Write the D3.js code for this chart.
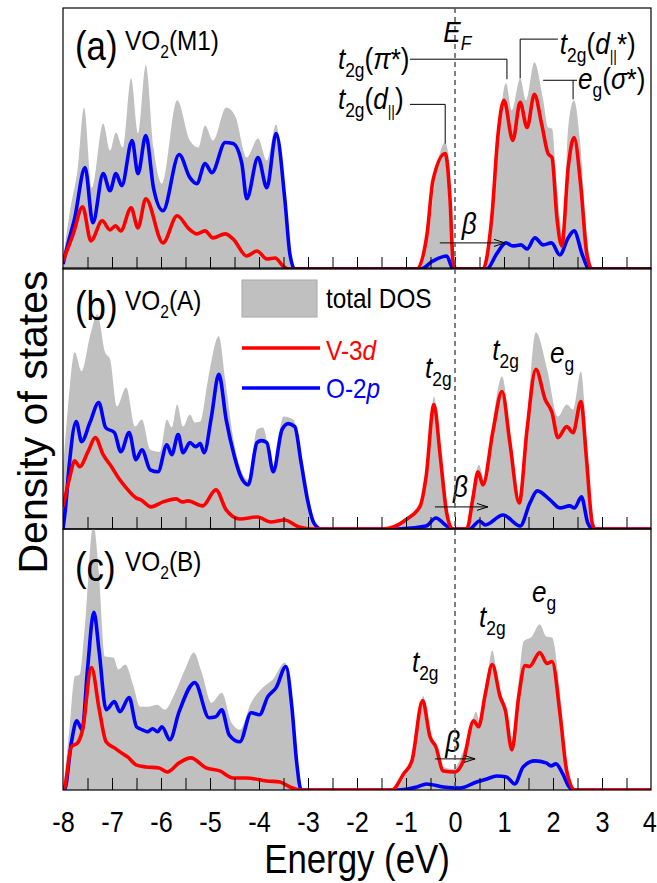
<!DOCTYPE html>
<html>
<head>
<meta charset="utf-8">
<script src="https://cdn.jsdelivr.net/npm/d3@7"></script>
<style>
  html, body { margin: 0; padding: 0; background: #fff; }
  svg { display: block; font-family: "Liberation Sans", Arial, sans-serif; }
</style>
</head>
<body>
<svg id="chart" width="657" height="883"></svg>
<script>
// Projected DOS of three VO2 polymorphs.
// Each series is [energy (eV), DOS (arb. units)].

const xTicks = [-8, -7, -6, -5, -4, -3, -2, -1, 0, 1, 2, 3, 4]
const panelNames = ['(a)', '(b)', '(c)']
const phaseNames = ['(M1)', '(A)', '(B)']
const legendNames = ['total DOS', 'V-3', 'O-2']

const m1Total = [[-8,1],[-7.85,6],[-7.7,10],[-7.57,16.1],[-7.41,8.1],[-7.18,14.5],[-7.04,11.8],[-6.92,13.6],[-6.78,12.1],[-6.61,19.0],[-6.47,13.5],[-6.31,20.3],[-6.15,12],[-5.98,8.5],[-5.67,16.8],[-5.41,12.8],[-5.24,12.1],[-5.10,14.3],[-4.94,12.8],[-4.67,16.1],[-4.49,15.3],[-4.25,11.1],[-4.02,13.0],[-3.84,10.8],[-3.65,14.4],[-3.43,3.5],[-3.3,0],[-0.78,0],[-0.51,4.8],[-0.37,10.1],[-0.2,12.6],[-0.1,9.5],[-0.04,1.5],[0.01,0],[0.55,0],[0.65,1.5],[0.78,6.8],[0.92,15],[1.04,18.5],[1.16,15.8],[1.33,19],[1.45,16.8],[1.62,20.6],[1.8,16.8],[1.9,14.1],[1.98,14],[2.08,8.1],[2.2,3.4],[2.31,14.1],[2.43,16.8],[2.55,12.8],[2.69,3.4],[2.8,0],[4,0]]
const m1O2p = [[-8,0.5],[-7.9,2.5],[-7.76,5.1],[-7.55,10.1],[-7.39,4.6],[-7.18,9.5],[-7.04,7.8],[-6.92,9.5],[-6.8,8.3],[-6.59,12.8],[-6.47,9.5],[-6.31,13.3],[-6.15,8],[-5.96,5.8],[-5.63,11.4],[-5.41,9.1],[-5.27,8.5],[-5.1,10.5],[-4.96,9.6],[-4.69,12.6],[-4.53,12.5],[-4.35,10.5],[-4.25,7.0],[-4.02,11.1],[-3.84,8.1],[-3.65,13.5],[-3.47,6.8],[-3.37,1.5],[-3.27,0],[-0.7,0],[-0.45,0.8],[-0.17,1.3],[-0.04,0],[0.65,0],[0.85,1.5],[1.04,2.6],[1.18,2.3],[1.35,2.4],[1.47,2.0],[1.63,3.1],[1.8,2.4],[1.97,2.6],[2.14,1.4],[2.3,3.0],[2.43,3.8],[2.6,1.4],[2.74,0],[4,0]]
const m1V3d = [[-8,0.8],[-7.79,3.5],[-7.6,6.2],[-7.43,2.8],[-7.2,4.8],[-7.04,3.9],[-6.93,4.3],[-6.82,3.8],[-6.61,6.1],[-6.47,4.1],[-6.31,7.0],[-5.96,2.6],[-5.67,5.3],[-5.43,4.0],[-5.27,3.5],[-5.1,3.8],[-4.94,3.1],[-4.69,3.5],[-4.53,3.0],[-4.25,1.3],[-4.04,1.8],[-3.84,1.0],[-3.67,1.1],[-3.51,0.3],[-3.4,0],[-0.78,0],[-0.57,3.5],[-0.45,8.8],[-0.2,11.5],[-0.1,6.8],[-0.04,0.8],[0.02,0],[0.57,0],[0.75,5.1],[0.88,13.5],[1.0,16.8],[1.18,12.8],[1.33,16.6],[1.47,14.1],[1.62,17.4],[1.77,14.4],[1.9,11.5],[1.98,11.1],[2.08,5.1],[2.18,2.3],[2.31,10.1],[2.43,13.1],[2.57,8.1],[2.69,1.5],[2.8,0],[4,0]]

const aTotal = [[-8,5.9],[-7.9,12],[-7.76,17.6],[-7.62,15.7],[-7.45,19.2],[-7.3,21.4],[-7.14,17.6],[-7.04,16.9],[-6.9,12.2],[-6.71,14.1],[-6.53,10.2],[-6.39,10.9],[-6.22,7.9],[-6.02,7.7],[-5.88,10.9],[-5.78,10.1],[-5.67,12.4],[-5.55,10.2],[-5.41,11.4],[-5.31,10.6],[-5.2,10.7],[-5.04,14.9],[-4.82,19.2],[-4.69,14.9],[-4.53,9.2],[-4.39,6.2],[-4.22,4.9],[-4.04,9.9],[-3.92,10.1],[-3.72,6.2],[-3.5,11.2],[-3.3,10.9],[-3.16,8.2],[-3.03,4.6],[-2.9,1.2],[-2.78,0],[-1.47,0],[-0.98,0.9],[-0.71,2.6],[-0.55,7.2],[-0.43,13.2],[-0.31,8.2],[-0.17,1.2],[-0.04,0],[0.24,0],[0.37,4.2],[0.49,6.4],[0.61,4.6],[0.78,10.9],[0.96,15.2],[1.12,9.9],[1.31,2.9],[1.47,10.9],[1.65,19.6],[1.88,15.9],[2.1,11.2],[2.28,12.4],[2.41,11.9],[2.57,15.7],[2.69,8.6],[2.8,0.6],[2.86,0],[4,0]]
const aO2p = [[-8,0],[-7.95,2],[-7.88,6],[-7.73,10.7],[-7.62,8.7],[-7.45,10.6],[-7.27,12.6],[-7.13,10.1],[-6.95,9.6],[-6.82,7.7],[-6.65,9.6],[-6.51,6.9],[-6.39,7.9],[-6.22,5.9],[-6.06,5.7],[-5.88,8.4],[-5.78,7.4],[-5.65,9.4],[-5.55,7.6],[-5.41,8.6],[-5.29,8.2],[-5.2,8.5],[-5.12,7.6],[-4.97,11.2],[-4.82,15.4],[-4.67,10.9],[-4.5,7.2],[-4.37,5.2],[-4.22,4.4],[-4.04,8.6],[-3.95,8.8],[-3.84,8.6],[-3.71,5.7],[-3.53,9.9],[-3.4,10.5],[-3.27,10.2],[-3.14,6.6],[-3.01,2.9],[-2.88,0.6],[-2.74,0],[-1.17,0],[-0.59,0.3],[-0.39,1.1],[-0.17,0.3],[-0.03,0],[0.3,0],[0.5,0.8],[0.62,0.4],[0.98,1.4],[1.33,0.3],[1.53,2.6],[1.68,3.8],[1.94,2.9],[2.14,2.1],[2.34,2.3],[2.44,2.1],[2.58,3.2],[2.71,0.6],[2.82,0],[4,0]]
const aV3d = [[-8,2.2],[-7.86,5.2],[-7.76,6.8],[-7.66,6.2],[-7.49,7.7],[-7.34,9.1],[-7.18,7.4],[-7.01,6.2],[-6.87,5.1],[-6.71,4.1],[-6.51,3.1],[-6.41,2.9],[-6.2,2.2],[-5.96,2.7],[-5.69,3.0],[-5.57,2.7],[-5.45,2.8],[-5.15,2.3],[-4.88,3.9],[-4.67,1.9],[-4.39,1.0],[-4.03,1.2],[-3.76,0.7],[-3.48,0.9],[-3.18,0.2],[-2.9,0],[-1.47,0],[-0.98,1.0],[-0.71,2.3],[-0.59,5.2],[-0.43,12.4],[-0.3,7.2],[-0.17,1.6],[-0.05,0],[0.24,0],[0.37,3.2],[0.47,5.7],[0.57,4.4],[0.78,9.9],[0.96,13.7],[1.12,8.6],[1.31,2.6],[1.47,9.9],[1.65,15.9],[1.84,12.9],[1.98,11.6],[2.1,9.1],[2.28,10.2],[2.41,9.6],[2.57,12.7],[2.68,7.2],[2.8,0.6],[2.86,0],[4,0]]

const bTotal = [[-8,0],[-7.87,6.0],[-7.76,11.3],[-7.66,11.5],[-7.56,16],[-7.38,26.5],[-7.27,21.7],[-7.14,13.3],[-6.97,13.2],[-6.87,12.0],[-6.73,12.5],[-6.56,10.3],[-6.43,8.3],[-6.26,8.3],[-6.08,8.5],[-5.92,8.0],[-5.75,9.3],[-5.51,12.0],[-5.33,13.7],[-5.17,11.7],[-4.97,8.7],[-4.76,9.7],[-4.56,6.7],[-4.39,6.0],[-4.16,8.7],[-3.92,10.2],[-3.72,11.0],[-3.47,12.7],[-3.31,7.7],[-3.21,2.7],[-3.14,0],[-1.29,0],[-0.98,1.9],[-0.81,4.3],[-0.72,7.3],[-0.65,9.4],[-0.51,5.3],[-0.41,4.6],[-0.28,2.4],[-0.04,2.1],[0.17,3.9],[0.34,6.6],[0.43,7.8],[0.51,6.7],[0.65,10.9],[0.76,13.9],[0.89,10.3],[1.03,8.3],[1.16,4.3],[1.3,10.9],[1.4,14.8],[1.57,15.3],[1.73,16.5],[1.86,15.3],[1.98,15.2],[2.15,9.3],[2.28,2.6],[2.42,0],[4,0]]
const bO2p = [[-8,0],[-7.97,0],[-7.83,4.7],[-7.72,6.9],[-7.61,6.0],[-7.5,12.0],[-7.37,17.7],[-7.26,13.7],[-7.12,8.0],[-6.95,8.8],[-6.84,7.8],[-6.65,9.2],[-6.5,6.3],[-6.38,6.0],[-6.28,5.8],[-6.17,6.1],[-6.07,5.8],[-5.98,6.3],[-5.82,5.0],[-5.63,7.8],[-5.31,10.7],[-5.02,7.2],[-4.88,7.3],[-4.76,8.0],[-4.61,5.5],[-4.39,4.8],[-4.16,7.7],[-3.99,7.5],[-3.82,9.3],[-3.65,10.2],[-3.45,12.3],[-3.33,8.3],[-3.23,2.7],[-3.14,0],[-1.19,0],[-0.78,0.3],[-0.58,0.6],[-0.24,0.3],[0.1,0.2],[0.44,0.8],[0.65,1.1],[0.85,1.4],[1.05,1.3],[1.22,0.6],[1.39,2.3],[1.63,2.9],[1.86,2.7],[1.96,2.4],[2.06,2.6],[2.2,1.6],[2.33,0.3],[2.43,0],[4,0]]
const bV3d = [[-8,0],[-7.97,0.2],[-7.83,4.3],[-7.7,4.7],[-7.6,6.0],[-7.42,12.2],[-7.26,8.0],[-7.12,4.8],[-6.95,4.2],[-6.78,3.6],[-6.68,3.3],[-6.51,2.5],[-6.31,2.3],[-6.04,2.2],[-5.87,1.8],[-5.63,2.7],[-5.39,3.2],[-5.08,2.2],[-4.8,1.9],[-4.53,1.2],[-4.26,1.2],[-3.84,0.9],[-3.57,0.8],[-3.37,0.3],[-3.16,0],[-1.29,0],[-1.05,1.6],[-0.88,2.9],[-0.66,8.9],[-0.51,5.3],[-0.39,4.3],[-0.24,1.9],[0,1.8],[0.17,2.9],[0.38,6.9],[0.48,6.3],[0.62,9.6],[0.76,12.5],[0.92,9.3],[1.03,7.9],[1.16,4.0],[1.3,9.3],[1.43,12.4],[1.52,12.3],[1.73,13.7],[1.88,12.6],[1.98,12.8],[2.15,7.3],[2.28,1.9],[2.45,0],[4,0]]

// annotation anchors in data units [E, DOS]
const betaArrows = [[-0.31, 1.02, 2.6], [-0.41, 0.67, 2.2], [-0.41, 0.41, 3.1]]
const betaLabels = [[0.14, 3.5], [-0.04, 3.2], [-0.2, 3.8]]

const W = 657, H = 883
const LEFT = 63, RIGHT = 651
const TOPS = [8, 268, 529]
const PH = 261
const SX = 0.87
const FONT = '"Liberation Sans", Arial, sans-serif'
const GREY = '#c0c0c0', RED = '#ff0000', BLUE = '#0000ff'

const svg = d3.select('#chart')
const x = d3.scaleLinear().domain([-8, 4]).range([LEFT, RIGHT])

// text with italic parts and subscripts, squeezed a bit horizontally
function rich(parent, px, py, parts, size, color, anchor) {
    const t = parent.append('text')
        .attr('transform', `translate(${px},${py}) scale(${SX},1)`)
        .attr('text-anchor', anchor || 'start')
        .style('font-size', size + 'px')
        .style('fill', color || '#000')
    let cur = 0
    parts.forEach(p => {
        const shift = p.sub ? Math.round(size * 0.28) : 0
        const ts = t.append('tspan').attr('dy', shift - cur).text(p.t)
        cur = shift
        if (p.it) ts.style('font-style', 'italic')
        if (p.sz) ts.style('font-size', p.sz + 'px')
    })
    return t
}

svg.append('defs').append('marker')
    .attr('id', 'open')
    .attr('viewBox', '0 0 12 8')
    .attr('refX', 11).attr('refY', 4)
    .attr('markerWidth', 12).attr('markerHeight', 8)
    .attr('markerUnits', 'userSpaceOnUse')
    .attr('orient', 'auto')
    .append('path')
    .attr('d', 'M0,0.5 L11,4 L0,7.5')
    .attr('fill', 'none').attr('stroke', '#000').attr('stroke-width', 1)

const panels = [
    { total: m1Total, o: m1O2p, v: m1V3d },
    { total: aTotal, o: aO2p, v: aV3d },
    { total: bTotal, o: bO2p, v: bV3d }
]

const ys = []

panels.forEach((p, i) => {
    const top = TOPS[i]
    const y = d3.scaleLinear().domain([0, 26]).range([top + PH, top])
    ys.push(y)

    svg.append('clipPath').attr('id', 'clip' + i)
        .append('rect').attr('x', LEFT).attr('y', top).attr('width', RIGHT - LEFT).attr('height', PH)

    const g = svg.append('g').attr('clip-path', `url(#clip${i})`)

    const area = d3.area().x(d => x(d[0])).y0(y(0)).y1(d => y(d[1])).curve(d3.curveMonotoneX)
    const line = d3.line().x(d => x(d[0])).y(d => y(d[1])).curve(d3.curveMonotoneX)

    g.append('path').datum(p.total).attr('d', area).attr('fill', GREY)
    g.append('path').datum(p.o).attr('d', line)
        .attr('fill', 'none').attr('stroke', BLUE).attr('stroke-width', 3.6).attr('stroke-linejoin', 'round')
    g.append('path').datum(p.v).attr('d', line)
        .attr('fill', 'none').attr('stroke', RED).attr('stroke-width', 3.6).attr('stroke-linejoin', 'round')

    // inward minor ticks every 0.5 eV
    const minor = d3.range(-7.5, 4, 0.5)
    svg.append('g')
        .attr('transform', `translate(0,${top + PH})`)
        .call(d3.axisBottom(x).tickValues(minor).tickSize(-12).tickFormat(''))
        .call(a => a.select('.domain').remove())
        .call(a => a.selectAll('line').attr('stroke', '#000').attr('stroke-width', 1))

    svg.append('rect')
        .attr('x', LEFT).attr('y', top).attr('width', RIGHT - LEFT).attr('height', PH)
        .attr('fill', 'none').attr('stroke', '#000').attr('stroke-width', 1.2)

    // panel title
    rich(svg, 75, top + 52, [{ t: panelNames[i] }], 40)
    rich(svg, 125, top + 42, [{ t: 'VO' }, { t: '2', sub: true, sz: 18 }, { t: phaseNames[i] }], 28)

    // beta arrow
    const ba = betaArrows[i]
    svg.append('line')
        .attr('x1', x(ba[0])).attr('x2', x(ba[1]))
        .attr('y1', y(ba[2])).attr('y2', y(ba[2]))
        .attr('stroke', '#000').attr('stroke-width', 1)
        .attr('marker-end', 'url(#open)')
    const bl = betaLabels[i]
    rich(svg, x(bl[0]), y(bl[1]), [{ t: 'β', it: true }], 30)
})

// Fermi level
svg.append('line')
    .attr('x1', x(0)).attr('x2', x(0))
    .attr('y1', TOPS[0]).attr('y2', TOPS[2] + PH)
    .attr('stroke', '#555').attr('stroke-width', 1.5)
    .attr('stroke-dasharray', '5,4')

// bottom axis labels
const axisG = svg.append('g')
    .attr('transform', `translate(0,${TOPS[2] + PH})`)
    .call(d3.axisBottom(x).tickValues(xTicks).tickSize(0).tickFormat(d => d))
axisG.select('.domain').remove()
axisG.selectAll('text')
    .attr('y', 42).attr('dy', 0)
    .attr('x', d => d === 4 ? -2 : 0)
    .attr('transform', `scale(${SX},1)`)
    .style('font-family', FONT).style('font-size', '29px').style('fill', '#000')

// axis titles
rich(svg, (LEFT + RIGHT) / 2, 873, [{ t: 'Energy (eV)' }], 40, '#000', 'middle')
svg.append('text')
    .attr('transform', 'translate(47,422) rotate(-90)')
    .attr('text-anchor', 'middle')
    .style('font-size', '41px')
    .text('Density of states')

// panel (a) annotations
const ya = ys[0]
function leader(pts, y) {
    svg.append('path')
        .attr('d', d3.line()(pts.map(d => [x(d[0]), y(d[1])])))
        .attr('fill', 'none').attr('stroke', '#000').attr('stroke-width', 1)
}
leader([[-0.92, 20.9], [1.06, 20.9], [1.06, 18.9]], ya)
leader([[2.10, 22.9], [1.33, 22.9], [1.33, 19.0]], ya)
leader([[1.80, 18.8], [2.49, 18.8]], ya)
leader([[2.41, 18.8], [2.41, 16.9]], ya)
leader([[-0.92, 16.4], [-0.2, 16.4], [-0.2, 12.5]], ya)

rich(svg, x(-0.24), ya(22.6), [{ t: 'E', it: true }, { t: 'F', it: true, sub: true, sz: 20 }], 30)
rich(svg, x(-2.39), ya(19.9), [{ t: 't', it: true }, { t: '2g', sub: true, sz: 20 }, { t: '(' }, { t: 'π', it: true }, { t: '*)' }], 30)
rich(svg, x(2.14), ya(21.4), [{ t: 't', it: true }, { t: '2g', sub: true, sz: 20 }, { t: '(' }, { t: 'd', it: true }, { t: '||', sub: true, sz: 16 }, { t: '*)' }], 30)
rich(svg, x(2.51), ya(17.9), [{ t: 'e', it: true }, { t: 'g', sub: true, sz: 20 }, { t: '(' }, { t: 'σ', it: true }, { t: '*)' }], 30)
rich(svg, x(-2.39), ya(15.9), [{ t: 't', it: true }, { t: '2g', sub: true, sz: 20 }, { t: '(' }, { t: 'd', it: true }, { t: '||', sub: true, sz: 16 }, { t: ')' }], 30)

// panel (b) annotations
const yb = ys[1]
rich(svg, x(-0.61), yb(15.0), [{ t: 't', it: true }, { t: '2g', sub: true, sz: 20 }], 30)
rich(svg, x(0.76), yb(16.8), [{ t: 't', it: true }, { t: '2g', sub: true, sz: 20 }], 30)
rich(svg, x(1.94), yb(16.5), [{ t: 'e', it: true }, { t: 'g', sub: true, sz: 20 }], 30)

// panel (c) annotations
const yc = ys[2]
rich(svg, x(-0.88), yc(11.8), [{ t: 't', it: true }, { t: '2g', sub: true, sz: 20 }], 30)
rich(svg, x(0.49), yc(16.2), [{ t: 't', it: true }, { t: '2g', sub: true, sz: 20 }], 30)
rich(svg, x(1.57), yc(18.7), [{ t: 'e', it: true }, { t: 'g', sub: true, sz: 20 }], 30)

// legend (sits in panel b)
svg.append('rect')
    .attr('x', 242).attr('y', 280).attr('width', 75).attr('height', 37)
    .attr('fill', GREY).attr('stroke', '#a8a8a8').attr('stroke-width', 1)
rich(svg, 326, 308, [{ t: legendNames[0] }], 28)
svg.append('line').attr('x1', 242).attr('x2', 320).attr('y1', 348).attr('y2', 348)
    .attr('stroke', RED).attr('stroke-width', 3.6)
rich(svg, 326, 360, [{ t: legendNames[1] }, { t: 'd', it: true }], 28, RED)
svg.append('line').attr('x1', 242).attr('x2', 320).attr('y1', 388).attr('y2', 388)
    .attr('stroke', BLUE).attr('stroke-width', 3.6)
rich(svg, 326, 398, [{ t: legendNames[2] }, { t: 'p', it: true }], 28, BLUE)
</script>
</body>
</html>
